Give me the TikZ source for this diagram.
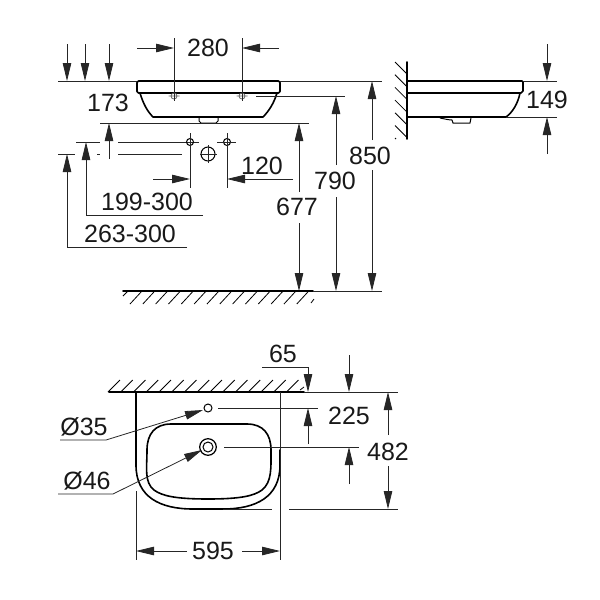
\documentclass[tikz,border=0pt]{standalone}
\usepackage{fontspec}
\setmainfont{Liberation Sans}
\usetikzlibrary{arrows.meta}
\tikzset{
thin line/.style={line width=0.8pt,black!85}, % dimension lines
thick line/.style={line width=1.6pt,line cap=round,line join=round},
hatch/.style={line width=0.8pt},
>={Triangle[length=18pt,width=8.5pt]},
dim/.style={thin line,->},
my label/.style={font=\fontsize{25}{25}\selectfont,inner sep=0pt,text=black!90},
}
\begin{document}
\begin{tikzpicture}[x=1pt,y=-1pt]
\useasboundingbox (0,0) rectangle (600,600);
% front view
\draw[thick line,rounded corners=1.5pt] (137,81) -- (280,81) -- (280,93) -- (137,93) -- cycle;
\draw[thick line] (140,93) .. controls (143,103) and (147,111) .. (153,117) -- (263,117) .. controls (269,111) and (274,103) .. (277,93);
\draw[line width=1pt] (199,117) -- (199,121) -- (201,123) -- (216,123) -- (218,121) -- (218,117);
\foreach \x in {174,242} {
  \draw[line width=0.8pt,black!60] (\x,96) circle[radius=3] (\x-5.5,96) -- (\x+5.5,96);
}
\draw[thin line] (58,81) -- (137,81) (280,81) -- (382,81);
\foreach \x in {67,85,109} \draw[dim] (\x,44) -- (\x,81);
\draw[thin line] (174,38) -- (174,101) (242,38) -- (242,101);
\draw[dim] (137,48) -- (174,48);
\draw[dim] (279,48) -- (242,48);
\node[my label] (w280) at (208,48) {280};
\node[my label] (h173) at (108,103) {173};
\draw[thin line] (256,96) -- (345,96);
\draw[thin line] (100,123) -- (309,123);
\draw[dim] (109,159) -- (109,123);
\draw[thin line] (76,142) -- (100,142) (118,142) -- (199,142);
\draw[thin line] (58,154) -- (75,154) (97,154) -- (100,154) (118,154) -- (182,154);
\draw[line width=1pt] (190,142) circle[radius=3.5];
\draw[line width=1pt] (227,142) circle[radius=3.5];
\draw[line width=1pt] (208,154) circle[radius=7];
\draw[thin line] (190,133) -- (190,188) (227,133) -- (227,188) (217,142) -- (236,142);
\draw[thin line] (200,154) -- (217,154) (208,145) -- (208,163);
\draw[dim] (153,179) -- (190,179);
\draw[dim] (293,179) -- (227,179);
\node[my label] (w120) at (262,166) {120};
\draw[dim] (203,215) -- (86,215) -- (86,142);
\node[my label] (r199) at (147,202) {199-300};
\draw[dim] (187,247) -- (67,247) -- (67,154);
\node[my label] (r263) at (130,234) {263-300};
% heights above the floor
\draw[dim] (299,192) -- (299,123);
\draw[dim] (299,223) -- (299,291);
\node[my label] (h677) at (297,207) {677};
\draw[dim] (336,165) -- (336,96);
\draw[dim] (336,197) -- (336,291);
\node[my label] (h790) at (335,181) {790};
\draw[dim] (372,140) -- (372,81);
\draw[dim] (372,170) -- (372,291);
\node[my label] (h850) at (370,156) {850};
\draw[thick line] (123,291) -- (313,291);
\draw[thin line] (313,291) -- (382,291);
\foreach \k in {0,...,13} \draw[hatch] (130+12.83*\k,304) -- (142+12.83*\k,291);
\draw[hatch] (123,296) -- (128,291) (311,303) -- (314,299);
% side view
\draw[thick line] (407,62) -- (407,139);
\foreach \y in {62,74.7,87.4,100.1,112.8,125.5} \draw[hatch] (395,\y) -- (407,\y+12);
\draw[hatch] (395,138) -- (396,139);
\draw[thick line] (407,81) -- (522,81) -- (523,82) -- (523,91) -- (521,93) -- (407,93);
\draw[thick line] (407,117) -- (506,117) .. controls (513,112) and (518,103) .. (520,93);
\draw[line width=1pt] (440,118) .. controls (445,119) and (449,120) .. (452,120) -- (453,123) -- (470,123) -- (471,118);
\draw[thin line] (523,81) -- (557,81) (506,117) -- (557,117);
\draw[dim] (547,44) -- (547,81);
\draw[dim] (547,154) -- (547,117);
\node[my label] (h149) at (547,100) {149};
% top view
\draw[thick line] (109,392) -- (304,392);
\draw[thin line] (304,392) -- (398,392);
\foreach \k in {0,...,14} \draw[hatch] (108+12.75*\k,392) -- (120+12.75*\k,380);
\draw[hatch] (300,390) -- (304,387);
\draw[thick line] (136,392) -- (136,465) .. controls (136,497) and (160,509) .. (193,509) -- (223,509) .. controls (256,509) and (280,497) .. (280,465) -- (280,450);
\draw[thick line] (171,424) -- (247,424) .. controls (263,424) and (271,434) .. (271,450) .. controls (271,468) and (272,482) .. (262,490) .. controls (254,496) and (240,499) .. (208,499) .. controls (176,499) and (162,496) .. (154,490) .. controls (144,482) and (147,468) .. (147,450) .. controls (147,434) and (155,424) .. (171,424) -- cycle;
\draw[line width=1pt] (208,408) circle[radius=4];
\draw[line width=1.2pt] (208,447) circle[radius=8.3];
\draw[line width=1pt] (208,447) circle[radius=5];
\draw[thin line] (218,408) -- (318,408) (224,447) -- (359,447);
\draw[thin line] (280,392) -- (280,560) (136,491) -- (136,560);
\draw[thin line] (223,509) -- (272,509) (289,509) -- (398,509);
\draw[dim] (60,440) -- (106,440) -- (203,410);
\node[my label] (d35) at (84,427) {Ø35};
\draw[dim] (58,494) -- (113,494) -- (202,450);
\node[my label] (d46) at (87,481) {Ø46};
\draw[dim] (187,551) -- (136,551);
\draw[dim] (242,551) -- (280,551);
\node[my label] (w595) at (213,551) {595};
\draw[dim] (262,367) -- (308,367) -- (308,392);
\node[my label] (w65) at (283,354) {65};
\draw[dim] (349,355) -- (349,392);
\draw[dim] (308,444) -- (308,408);
\draw[dim] (349,484) -- (349,447);
\node[my label] (h225) at (349,416) {225};
\draw[dim] (388,435) -- (388,392);
\draw[dim] (388,466) -- (388,509);
\node[my label] (h482) at (388,452) {482};
\end{tikzpicture}
\end{document}
